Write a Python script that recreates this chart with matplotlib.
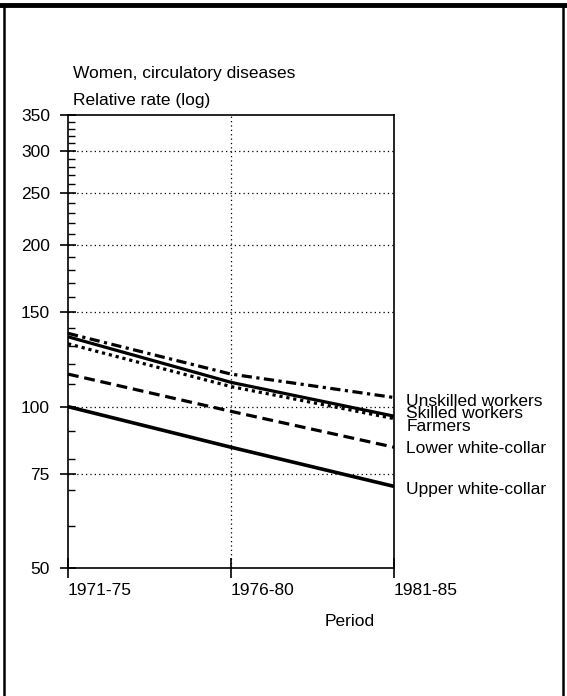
import matplotlib
matplotlib.use("Agg")
import matplotlib.pyplot as plt
from matplotlib.lines import Line2D
from matplotlib.ticker import FixedLocator, NullFormatter
import numpy as np

plt.rcParams['font.family'] = ['Liberation Sans', 'DejaVu Sans']

# relative mortality rates, women, circulatory diseases
periods = ["1971-75", "1976-80", "1981-85"]
unskilled = [137, 115, 104]
skilled = [135, 111, 96]
farmers = [131, 109, 95]
lower_wc = [115, 98, 84]
upper_wc = [100, 84, 71]

series_names = ["Unskilled workers", "Skilled workers", "Farmers",
                "Lower white-collar", "Upper white-collar"]
series_values = [unskilled, skilled, farmers, lower_wc, upper_wc]

y_major = [50, 75, 100, 150, 200, 250, 300, 350]
y_minor = [60, 70, 80, 90, 110, 120, 130, 140, 160, 170, 180, 190,
           210, 220, 230, 240, 260, 270, 280, 290, 310, 320, 330, 340]

styles = [
    dict(ls=(0, (3.2, 1.4, 1.0, 1.4)), lw=2.3),
    dict(ls='-', lw=2.3),
    dict(ls=(0, (1.0, 1.2)), lw=2.3),
    dict(ls=(0, (3.4, 1.8)), lw=2.3),
    dict(ls='-', lw=2.6),
]
# vertical nudge of the end labels (points) so they don't collide
label_dy = [-3, 2, -6, -1, -2]
FS = 12.5

W, H = 567, 696
fig = plt.figure(figsize=(W / 100, H / 100), dpi=100)
ax = fig.add_axes([68 / W, 1 - 568 / H, (394 - 68) / W, (568 - 115) / H])

x = np.arange(len(periods))
for vals, st in zip(series_values, styles):
    ax.plot(x, vals, color='black', solid_capstyle='butt',
            dash_capstyle='butt', **st)

ax.set_yscale('log')
ax.set_ylim(50, 350)
ax.set_xlim(0, 2)

ax.yaxis.set_major_locator(FixedLocator(y_major))
ax.yaxis.set_minor_locator(FixedLocator(y_minor))
ax.set_yticklabels([str(v) for v in y_major])
ax.yaxis.set_minor_formatter(NullFormatter())
ax.set_xticks(x)
ax.set_xticklabels(periods, ha='left')

ax.tick_params(axis='y', which='major', direction='inout', length=12,
               width=1.2, labelsize=FS, pad=7)
ax.tick_params(axis='y', which='minor', direction='in', length=5, width=1.0)
ax.tick_params(axis='x', which='major', direction='inout', length=14,
               width=1.2, labelsize=FS, pad=4)
ax.tick_params(top=False, right=False)

for s in ax.spines.values():
    s.set_linewidth(1.2)

# dotted reference lines
for v in [75, 100, 150, 200, 250, 300]:
    ax.axhline(v, color='black', lw=0.9, ls=(0, (1, 2.5)), zorder=0)
ax.axvline(1, color='black', lw=0.9, ls=(0, (1, 2.5)), zorder=0)

for name, vals, dy in zip(series_names, series_values, label_dy):
    ax.annotate(name, xy=(x[-1], vals[-1]), xytext=(9, dy),
                textcoords='offset points', va='center', ha='left',
                fontsize=FS, annotation_clip=False)

fig.text(73 / W, 1 - 78 / H, "Women, circulatory diseases", fontsize=FS)
fig.text(73 / W, 1 - 105 / H, "Relative rate (log)", fontsize=FS)
fig.text(350 / W, 1 - 622 / H, "Period", fontsize=FS, ha='center', va='center')

# page frame
fig.add_artist(Line2D([0, 1], [1 - 5 / H, 1 - 5 / H], color='black', lw=3.5,
                      transform=fig.transFigure))
fig.add_artist(Line2D([4 / W, 4 / W], [0.0, 1 - 5 / H], color='black', lw=1.8,
                      transform=fig.transFigure))
fig.add_artist(Line2D([563 / W, 563 / W], [0.0, 1 - 5 / H], color='black', lw=1.8,
                      transform=fig.transFigure))

fig.savefig("out.png", dpi=100)
